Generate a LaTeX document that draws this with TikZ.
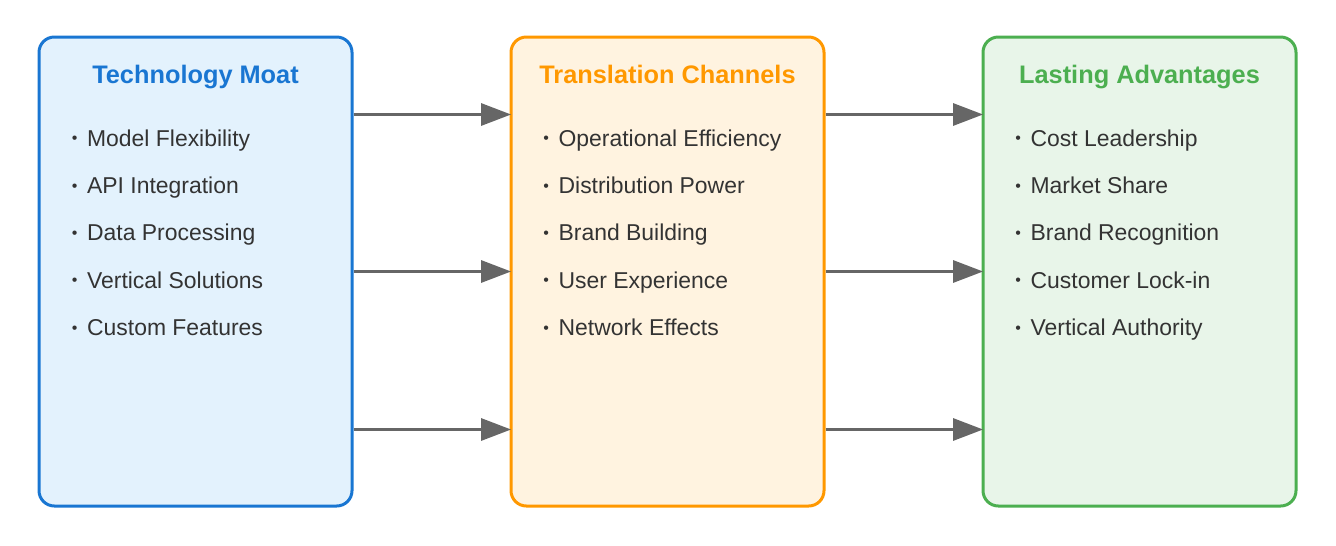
\documentclass[tikz,border=0pt]{standalone}
\usepackage{fontspec}
\setmainfont{Liberation Sans}
\usetikzlibrary{arrows.meta}
\definecolor{bluebd}{HTML}{1976D2}
\definecolor{bluefill}{HTML}{E3F2FD}
\definecolor{orgbd}{HTML}{FF9800}
\definecolor{orgfill}{HTML}{FFF3E0}
\definecolor{grnbd}{HTML}{4CAF50}
\definecolor{grnfill}{HTML}{E8F5E9}
\definecolor{txt}{HTML}{333333}
\definecolor{arrc}{HTML}{666666}
\newcommand{\bul}{\makebox[11.5pt][l]{\raisebox{1.6pt}{\fontsize{12}{12}\selectfont •}}}
\tikzset{
  panel/.style={draw, line width=2.25pt, rounded corners=11.5pt, minimum width=234.75pt, minimum height=351.75pt, inner sep=0pt},
  ttl/.style={anchor=base, font=\fontsize{19}{22}\selectfont\bfseries, inner sep=0pt},
  item/.style={anchor=base west, font=\fontsize{17.2}{20}\selectfont, text=txt, inner sep=0pt},
  arr/.style={draw=arrc, line width=2.25pt, -{Triangle[length=22.5pt, width=16.5pt]}, shorten >=-1.2pt}
}
\begin{document}
\begin{tikzpicture}[x=0.75pt, y=-0.75pt]
\useasboundingbox (0,0) rectangle (1336,546);
% panels
\node[panel, draw=bluebd, fill=bluefill] (tm) at (195.5,271.5) {};
\node[panel, draw=orgbd, fill=orgfill] (tc) at (667.5,271.5) {};
\node[panel, draw=grnbd, fill=grnfill] (la) at (1139.5,271.5) {};
% titles
\node[ttl, text=bluebd] (t1) at (195.5,83) {Technology Moat};
\node[ttl, text=orgbd] (t2) at (667.5,83) {Translation Channels};
\node[ttl, text=grnbd] (t3) at (1139.5,83) {Lasting Advantages};
% items left
\node[item] (a1) at (71.5,146) {\bul Model Flexibility};
\node[item] (a2) at (71.5,193.3) {\bul API Integration};
\node[item] (a3) at (71.5,240.6) {\bul Data Processing};
\node[item] (a4) at (71.5,288) {\bul Vertical Solutions};
\node[item] (a5) at (71.5,335.2) {\bul Custom Features};
% items middle
\node[item] (b1) at (543,146) {\bul Operational Efficiency};
\node[item] (b2) at (543,193.3) {\bul Distribution Power};
\node[item] (b3) at (543,240.6) {\bul Brand Building};
\node[item] (b4) at (543,288) {\bul User Experience};
\node[item] (b5) at (543,335.2) {\bul Network Effects};
% items right
\node[item] (c1) at (1015,146) {\bul Cost Leadership};
\node[item] (c2) at (1015,193.3) {\bul Market Share};
\node[item] (c3) at (1015,240.6) {\bul Brand Recognition};
\node[item] (c4) at (1015,288) {\bul Customer Lock-in};
\node[item] (c5) at (1015,335.2) {\bul Vertical Authority};
% arrows
\draw[arr] ([yshift=117.75pt]tm.east) -- ([yshift=117.75pt]tc.west);
\draw[arr] (tm.east) -- (tc.west);
\draw[arr] ([yshift=-118.5pt]tm.east) -- ([yshift=-118.5pt]tc.west);
\draw[arr] ([yshift=117.75pt]tc.east) -- ([yshift=117.75pt]la.west);
\draw[arr] (tc.east) -- (la.west);
\draw[arr] ([yshift=-118.5pt]tc.east) -- ([yshift=-118.5pt]la.west);
\end{tikzpicture}
\end{document}
